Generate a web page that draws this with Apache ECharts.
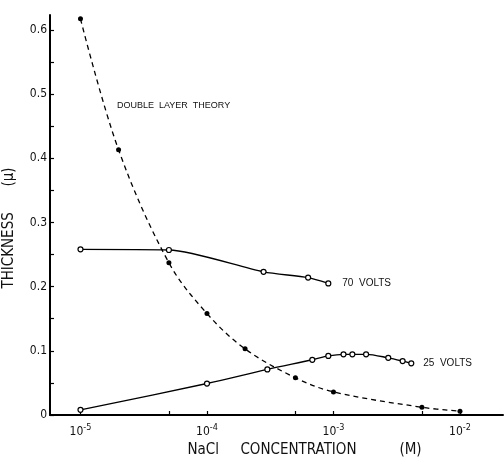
<!DOCTYPE html>
<html>
<head>
<meta charset="utf-8">
<script src="https://cdn.jsdelivr.net/npm/echarts@6/dist/echarts.min.js"></script>
<style>html,body{margin:0;padding:0;background:#fff;}#c{width:504px;height:457px;}</style>
</head>
<body>
<div id="c"></div>
<script>
// Data (NaCl concentration in M, thickness in microns)
const theoryConc = [1e-5, 2e-5, 5e-5, 1e-4, 2e-4, 5e-4, 1e-3, 5e-3, 1e-2];
const theoryThick = [0.617, 0.413, 0.237, 0.158, 0.103, 0.058, 0.036, 0.012, 0.006];

const v70Conc = [1e-5, 5e-5, 2.8e-4, 6.3e-4, 9.1e-4];
const v70Thick = [0.258, 0.257, 0.223, 0.214, 0.205];

const v25Conc = [1e-5, 1e-4, 3.0e-4, 6.8e-4, 9.1e-4, 1.2e-3, 1.41e-3, 1.81e-3, 2.71e-3, 3.52e-3, 4.12e-3];
const v25Thick = [0.008, 0.049, 0.071, 0.086, 0.092, 0.0945, 0.0945, 0.0945, 0.089, 0.084, 0.0805];

const xLabelValues = [1e-5, 1e-4, 1e-3, 1e-2];
const xTickValues = [1e-5, 5e-5, 1e-4, 5e-4, 1e-3, 5e-3, 1e-2];
const yTickValues = [0, 0.05, 0.1, 0.15, 0.2, 0.25, 0.3, 0.35, 0.4, 0.45, 0.5, 0.55, 0.6];
const yLabelValues = [0, 0.1, 0.2, 0.3, 0.4, 0.5, 0.6];

const seriesNames = ['DOUBLE LAYER THEORY', '70 VOLTS', '25 VOLTS'];

const zip = (a, b) => a.map((v, i) => [v, b[i]]);
const NARROW = "'Liberation Sans Narrow', 'DejaVu Sans Condensed', 'Liberation Sans', sans-serif";
const REG = "'Liberation Sans', Arial, sans-serif";

const chart = echarts.init(document.getElementById('c'), null, {renderer: 'canvas'});
chart.setOption({
  animation: false,
  backgroundColor: '#fff',
  grid: {left: 50, right: 1, top: 15, bottom: 42, containLabel: false, outerBoundsMode: 'none'},
  xAxis: {
    type: 'log',
    logBase: 10,
    min: Math.pow(10, -5.241),
    max: Math.pow(10, -1.66),
    name: 'NaCl     CONCENTRATION          (M)',
    nameLocation: 'middle',
    nameGap: 28,
    nameTextStyle: {fontFamily: NARROW, fontSize: 15, color: '#111', padding: [0, 0, 0, 56]},
    axisLine: {show: true, onZero: false, lineStyle: {color: '#000', width: 2}},
    axisTick: {show: true, inside: true, length: 4, customValues: xTickValues, lineStyle: {color: '#000', width: 1.2}},
    minorTick: {show: false},
    splitLine: {show: false},
    axisLabel: {
      customValues: xLabelValues,
      margin: 8,
      formatter: function (v) {
        const e = Math.round(Math.log10(v));
        return '{b|10}{e|' + e + '}';
      },
      rich: {
        b: {fontFamily: NARROW, fontSize: 12, color: '#111'},
        e: {fontFamily: NARROW, fontSize: 9, color: '#111', padding: [0, 0, 8, 0]}
      }
    }
  },
  yAxis: {
    type: 'value',
    min: 0,
    max: 0.623,
    name: 'THICKNESS      (μ)',
    nameLocation: 'middle',
    nameRotate: 90,
    nameGap: 33,
    nameTextStyle: {fontFamily: NARROW, fontSize: 15, color: '#111', padding: [0, 26, 0, 0]},
    axisLine: {show: true, lineStyle: {color: '#000', width: 2}},
    axisTick: {show: true, inside: true, length: 4, customValues: yTickValues, lineStyle: {color: '#000', width: 1.2}},
    splitLine: {show: false},
    axisLabel: {
      customValues: yLabelValues,
      margin: 3,
      fontFamily: NARROW, fontSize: 12, color: '#111',
      formatter: function (v) { return v === 0 ? '0' : String(v); }
    }
  },
  graphic: [{
    type: 'text', left: 117, top: 101,
    style: {text: 'DOUBLE  LAYER  THEORY', font: '9px ' + REG, fill: '#111'}
  }],
  series: [
    {
      name: seriesNames[0], type: 'line', data: zip(theoryConc, theoryThick),
      smooth: 0.35, symbol: 'circle', symbolSize: 5,
      itemStyle: {color: '#000'},
      lineStyle: {color: '#000', width: 1.3, type: [5, 4]}
    },
    {
      name: seriesNames[1], type: 'line', data: zip(v70Conc, v70Thick),
      smooth: 0.25, symbol: 'circle', symbolSize: 5,
      itemStyle: {color: '#fff', borderColor: '#000', borderWidth: 1.2},
      lineStyle: {color: '#000', width: 1.4},
      endLabel: {show: true, formatter: '70  VOLTS', distance: 14, fontFamily: REG, fontSize: 10, color: '#111'}
    },
    {
      name: seriesNames[2], type: 'line', data: zip(v25Conc, v25Thick),
      smooth: 0.3, symbol: 'circle', symbolSize: 5,
      itemStyle: {color: '#fff', borderColor: '#000', borderWidth: 1.2},
      lineStyle: {color: '#000', width: 1.4},
      endLabel: {show: true, formatter: '25  VOLTS', distance: 12, fontFamily: REG, fontSize: 10, color: '#111'}
    }
  ]
});
</script>
</body>
</html>
